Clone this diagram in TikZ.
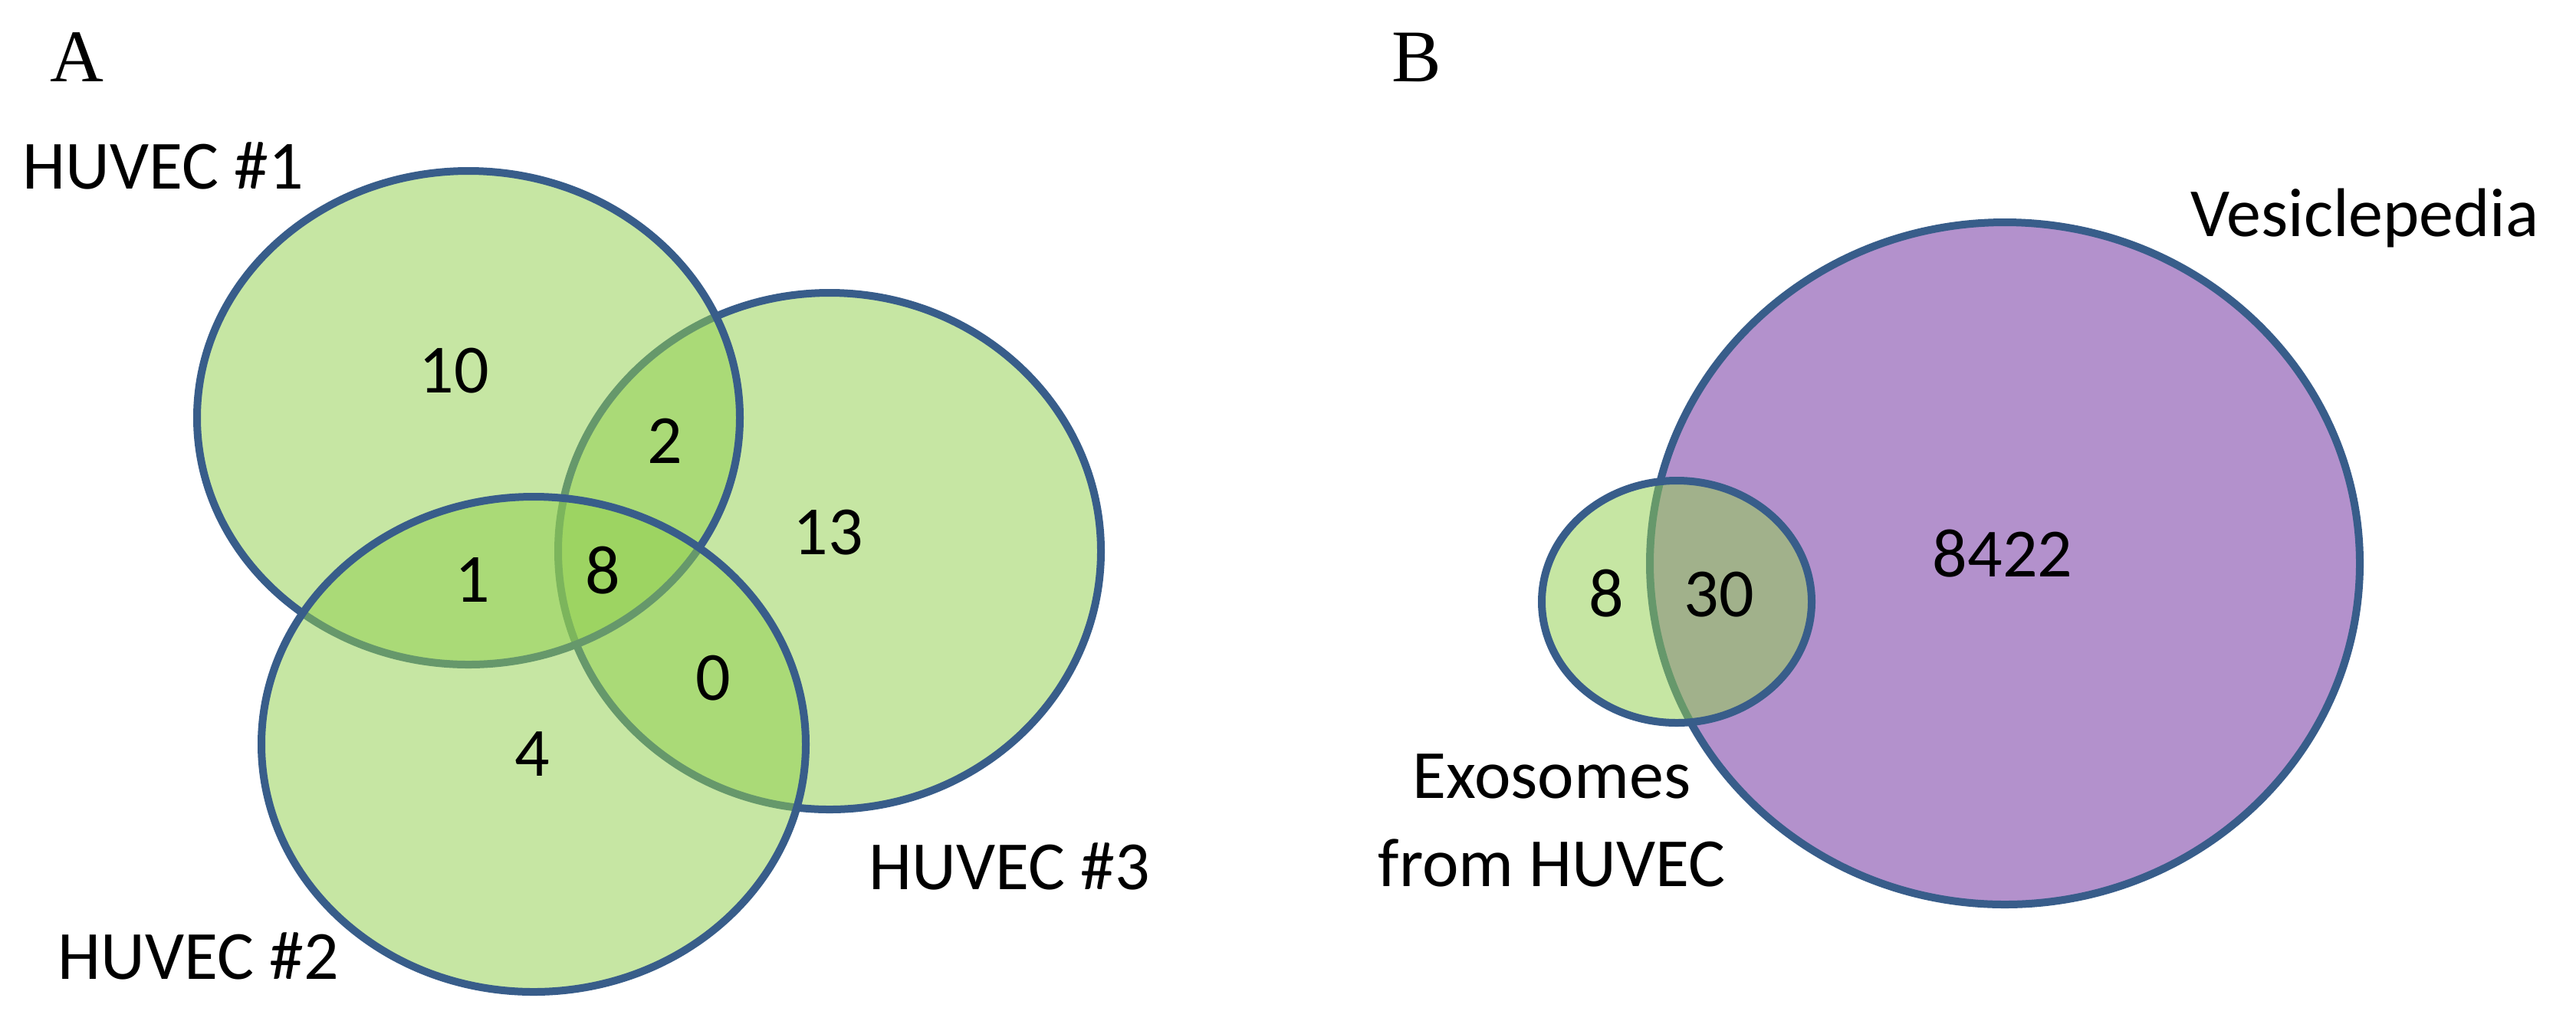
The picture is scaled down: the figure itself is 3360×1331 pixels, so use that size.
\documentclass[tikz,border=0pt]{standalone}
\usepackage{fontspec}
\setmainfont{Carlito}
\newfontfamily\serifA{Liberation Serif}
\definecolor{vgreen}{RGB}{146,208,80}
\definecolor{vpurple}{RGB}{112,48,160}
\definecolor{vblue}{RGB}{56,93,138}
\tikzset{
  setg/.style={fill=vgreen, fill opacity=0.52, draw=vblue, line width=2.5pt},
  setp/.style={fill=vpurple, fill opacity=0.53, draw=vblue, line width=2.5pt},
  lbl/.style={inner sep=0pt, font=\fontsize{22.5pt}{27pt}\selectfont},
  panel/.style={inner sep=0pt, font=\serifA\fontsize{24.2pt}{29pt}\selectfont}
}
\begin{document}
\begin{tikzpicture}[x=0.25pt,y=-0.25pt]
\useasboundingbox (0,0) rectangle (3360,1331);
\fill[white] (0,0) rectangle (3360,1331);
% panel A
\path[setg] (1082,719) ellipse [x radius=88.5pt, y radius=84.25pt];
\path[setg] (611,545) ellipse [x radius=88.5pt, y radius=80.5pt];
\path[setg] (696,971) ellipse [x radius=88.75pt, y radius=80.75pt];
% panel B
\path[setp] (2615,735) ellipse [x radius=115.75pt, y radius=111.25pt];
\path[setg] (2187,785) ellipse [x radius=44pt, y radius=39.5pt];
% labels
\node[panel, anchor=base west] (pa) at (65,106) {A};
\node[panel, anchor=base west] (pb) at (1815,106) {B};
\node[lbl, anchor=base west] (h1) at (29,246) {HUVEC \#1};
\node[lbl, anchor=base west] (h2) at (75,1277) {HUVEC \#2};
\node[lbl, anchor=base west] (h3) at (1133,1160) {HUVEC \#3};
\node[lbl, anchor=base] (n10) at (592,512) {10};
\node[lbl, anchor=base] (n2) at (867,604) {2};
\node[lbl, anchor=base] (n13) at (1080,723) {13};
\node[lbl, anchor=base] (n1) at (616,785) {1};
\node[lbl, anchor=base] (n8) at (786,774) {8};
\node[lbl, anchor=base] (n0) at (930,913) {0};
\node[lbl, anchor=base] (n4) at (694,1012) {4};
\node[lbl, anchor=base] (b8) at (2095,804) {8};
\node[lbl, anchor=base] (b30) at (2242,804) {30};
\node[lbl, anchor=base] (b8422) at (2612,752) {8422};
\node[lbl, anchor=base west] (ves) at (2857,308) {Vesiclepedia};
\node[lbl, anchor=base] (exo1) at (2024,1041) {Exosomes};
\node[lbl, anchor=base] (exo2) at (2024,1156) {from HUVEC};
\end{tikzpicture}
\end{document}
